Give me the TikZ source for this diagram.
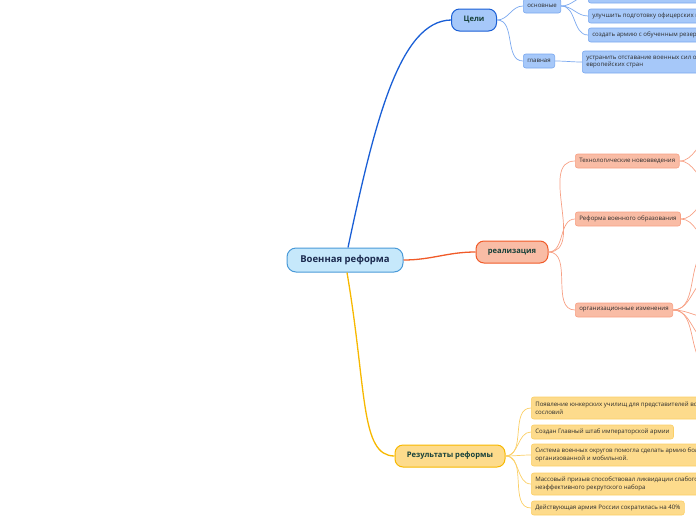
\documentclass[tikz,border=0pt]{standalone}
\usepackage{fontspec}
\setmainfont{Open Sans}
\usetikzlibrary{positioning}

\definecolor{rootfill}{HTML}{C6E8FB}
\definecolor{rootline}{HTML}{4A9AD8}
\definecolor{roottext}{HTML}{1B2A4E}
\definecolor{topictext}{HTML}{17413A}
\definecolor{leaftext}{HTML}{2B2B2B}
\definecolor{bluemain}{HTML}{1A5FD6}
\definecolor{bluefill}{HTML}{A6C8F9}
\definecolor{blueline}{HTML}{7AA8EF}
\definecolor{redmain}{HTML}{F05A28}
\definecolor{redfill}{HTML}{F9BCA5}
\definecolor{redline}{HTML}{F7A084}
\definecolor{yelmain}{HTML}{F7B800}
\definecolor{yelfill}{HTML}{FDDB8C}
\definecolor{yelline}{HTML}{FBCF66}

\tikzset{
  root/.style={draw=rootline, fill=rootfill, rounded corners=9pt, minimum width=116pt,
    minimum height=24pt, line width=1pt, text=roottext, font=\fontsize{9.5}{12}\selectfont\bfseries},
  topic/.style={rounded corners=8pt, minimum height=22pt, line width=1pt, text=topictext,
    font=\fontsize{7.6}{10}\selectfont\bfseries},
  leaf/.style={rounded corners=2.5pt, minimum height=14pt, inner xsep=4pt, line width=0.6pt,
    text=leaftext, anchor=west, align=left, font=\fontsize{6.1}{7.5}\selectfont},
  link/.style={line width=0.7pt, out=0, in=180},
}

\begin{document}
\begin{tikzpicture}[x=1pt,y=-1pt]
	\useasboundingbox (0,0) rectangle (696,520);
	\clip (0,0) rectangle (696,520);
	
	% main topics
	\node[root] (reform) at (345, 260) {Военная реформа};
	\node[topic, draw=bluemain, fill=bluefill, minimum width=45pt] (goals) at (474, 20) {Цели};
	\node[topic, draw=redmain, fill=redfill, minimum width=72pt] (impl) at (512, 252) {реализация};
	\node[topic, draw=yelmain, fill=yelfill, minimum width=110pt] (results) at (450, 456) {Результаты реформы};
	
	\draw[bluemain, line width=1.3pt] ([xshift=3pt]reform.north) .. controls (375, 120) and (400, 21) .. (goals.west);
	\draw[redmain, line width=1.3pt] (reform.east) to[out=0, in=180] (impl.west);
	\draw[yelmain, line width=1.3pt] ([xshift=2pt]reform.south) .. controls (367, 390) and (360, 456) .. (results.west);
	
	% goals
	\node[leaf, draw=blueline, fill=bluefill] (basic) at (523, 6) {основные};
	\node[leaf, draw=blueline, fill=bluefill] (main) at (523, 61) {главная};
	\node[leaf, draw=blueline, fill=bluefill, minimum width=130pt] (g1) at (588, -4) {};
	\node[leaf, draw=blueline, fill=bluefill] (g2) at (588, 16) {улучшить подготовку офицерских кадров};
	\node[leaf, draw=blueline, fill=bluefill] (g3) at (588, 35) {создать армию с обученным резервом};
	\node[leaf, draw=blueline, fill=bluefill, minimum height=22pt] (g4) at (582, 62)
		{устранить отставание военных сил от передовых\\европейских стран};
	
	\draw[blueline, link] (goals.east) to (basic.west);
	\draw[blueline, link] (goals.east) to (main.west);
	\draw[blueline, link] (basic.east) to (g1.west);
	\draw[blueline, link] (basic.east) to (g2.west);
	\draw[blueline, link] (basic.east) to (g3.west);
	\draw[blueline, link] (main.east) to (g4.west);
	
	% implementation
	\node[leaf, draw=redline, fill=redfill] (tech) at (575, 161) {Технологические нововведения};
	\node[leaf, draw=redline, fill=redfill] (edu) at (575, 219) {Реформа военного образования};
	\node[leaf, draw=redline, fill=redfill] (org) at (575, 310) {организационные изменения};
	
	\coordinate (t1) at (712, 140);
	\coordinate (t2) at (712, 182);
	\coordinate (e1) at (712, 200);
	\coordinate (e2) at (712, 240);
	\coordinate (o1) at (712, 250);
	\coordinate (o2) at (712, 278);
	\coordinate (o3) at (712, 318);
	\coordinate (o4) at (712, 342);
	\coordinate (o5) at (712, 366);
	
	\draw[redline, link] (impl.east) to (tech.west);
	\draw[redline, link] (impl.east) to (edu.west);
	\draw[redline, link] (impl.east) to (org.west);
	\foreach \c in {t1, t2}
		\draw[redline, link] (tech.east) to (\c);
	\foreach \c in {e1, e2}
		\draw[redline, link] (edu.east) to (\c);
	\foreach \c in {o1, o2, o3, o4, o5}
		\draw[redline, link] (org.east) to (\c);
	
	% results
	\node[leaf, draw=yelline, fill=yelfill, minimum height=22pt] (r1) at (531, 408)
		{Появление юнкерских училищ для представителей всех\\сословий};
	\node[leaf, draw=yelline, fill=yelfill] (r2) at (531, 432) {Создан Главный штаб императорской армии};
	\node[leaf, draw=yelline, fill=yelfill, minimum height=22pt] (r3) at (531, 455)
		{Система военных округов помогла сделать армию более\\организованной и мобильной.};
	\node[leaf, draw=yelline, fill=yelfill, minimum height=22pt] (r4) at (531, 484)
		{Массовый призыв способствовал ликвидации слабого и\\неэффективного рекрутского набора};
	\node[leaf, draw=yelline, fill=yelfill] (r5) at (531, 508) {Действующая армия России сократилась на 40\%};
	
	\foreach \r in {r1, r2, r3, r4, r5}
		\draw[yelline, link] (results.east) to (\r.west);
	
\end{tikzpicture}
\end{document}
